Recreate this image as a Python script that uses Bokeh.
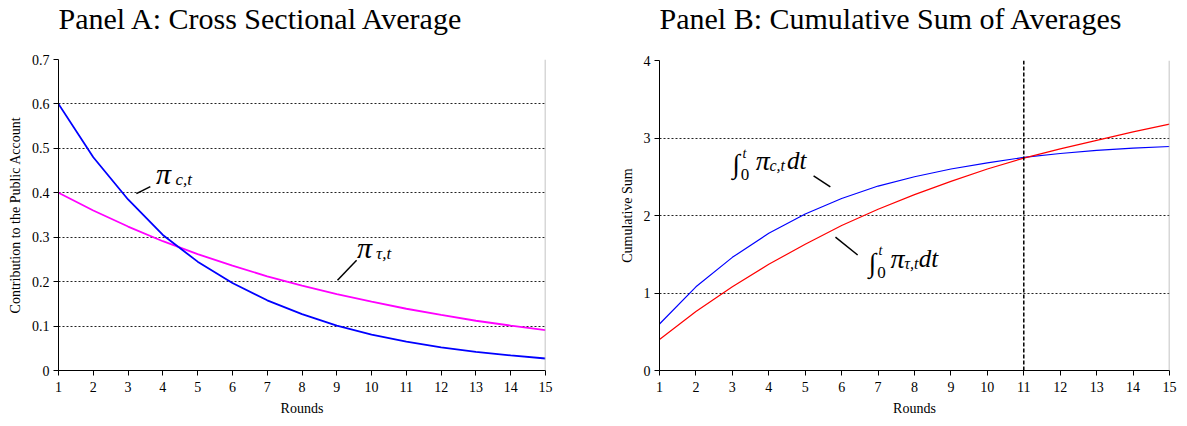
from bokeh.plotting import figure
from bokeh.models import Span, Range1d, FixedTicker, Label, Segment, ColumnDataSource
from bokeh.layouts import row, column
from bokeh.embed import file_html
from bokeh.resources import INLINE

# ---------------- data ----------------
rounds = list(range(1, 16))
pi_c = [0.60, 0.48, 0.385, 0.305, 0.245, 0.197, 0.158, 0.127, 0.101, 0.081, 0.065, 0.052, 0.042, 0.034, 0.027]
pi_tau = [0.40, 0.36, 0.324, 0.291, 0.262, 0.236, 0.212, 0.191, 0.172, 0.155, 0.139, 0.125, 0.112, 0.101, 0.091]
cum_c = [0.60, 1.08, 1.46, 1.77, 2.02, 2.22, 2.38, 2.50, 2.60, 2.68, 2.75, 2.80, 2.84, 2.87, 2.89]
cum_tau = [0.40, 0.76, 1.08, 1.37, 1.63, 1.87, 2.08, 2.27, 2.44, 2.60, 2.74, 2.86, 2.97, 3.08, 3.18]
crossing_round = 11
x_ticks = list(range(1, 16))
a_yticks = [0, 0.1, 0.2, 0.3, 0.4, 0.5, 0.6, 0.7]
a_ylabels = ["0", "0.1", "0.2", "0.3", "0.4", "0.5", "0.6", "0.7"]
b_yticks = [0, 1, 2, 3, 4]
b_ylabels = ["0", "1", "2", "3", "4"]
title_a = "Panel A: Cross Sectional Average"
title_b = "Panel B: Cumulative Sum of Averages"

FONT = "Liberation Serif"
TITLE_H = 45


def title_fig(width, text):
    # frames of figures stacked in a column are aligned, so share the x range of the panel
    t = figure(width=width, height=TITLE_H, x_range=Range1d(1, 15), y_range=Range1d(0, TITLE_H),
               output_backend="svg", toolbar_location=None, min_border=0,
               min_border_left=0, min_border_right=0, min_border_top=0, min_border_bottom=0,
               x_axis_location=None, y_axis_location=None)
    t.grid.visible = False
    t.outline_line_color = None
    t.add_layout(Label(x=1.0, y=27, text=text, text_font=FONT, text_font_size="30px",
                       text_color="black", text_baseline="alphabetic", text_align="left"))
    return t


def make(width, left, right, top, ymax, yticks, ylabels, ylabel):
    p = figure(width=width, height=426 - TITLE_H, x_range=Range1d(1, 15), y_range=Range1d(0, ymax),
               output_backend="svg", toolbar_location=None,
               min_border_left=left, min_border_right=right,
               min_border_top=top, min_border_bottom=56)
    p.outline_line_color = None
    p.background_fill_color = "white"
    p.border_fill_color = "white"
    p.xaxis.ticker = FixedTicker(ticks=x_ticks)
    p.yaxis.ticker = FixedTicker(ticks=yticks)
    p.yaxis.major_label_overrides = {t: l for t, l in zip(yticks, ylabels)}
    for ax in (p.xaxis, p.yaxis):
        ax.axis_line_color = "black"
        ax.major_tick_line_color = "black"
        ax.minor_tick_line_color = None
        ax.major_tick_in = 0
        ax.major_tick_out = 5
        ax.major_label_text_font = FONT
        ax.major_label_text_font_size = "14px"
        ax.major_label_text_color = "black"
        ax.axis_label_text_font = FONT
        ax.axis_label_text_font_style = "normal"
        ax.axis_label_text_font_size = "14px"
        ax.axis_label_text_color = "black"
    p.xaxis.axis_label = "Rounds"
    p.yaxis.axis_label = ylabel
    p.xaxis.major_label_standoff = 6
    p.xaxis.axis_label_standoff = 6
    p.yaxis.major_label_standoff = 4
    p.yaxis.axis_label_standoff = 6
    p.xgrid.grid_line_color = None
    p.ygrid.grid_line_color = "#222222"
    p.ygrid.grid_line_dash = "2 2"
    p.ygrid.grid_line_width = 1
    p.add_layout(Span(location=15, dimension="height", line_color="#b0b0b0", line_width=1.5))
    return p


def add_text(p, x, y, txt, size, style="italic"):
    p.add_layout(Label(x=x, y=y, text=txt, text_font=FONT, text_font_size=size,
                       text_font_style=style, text_color="black", text_baseline="alphabetic"))


# ---------------- Panel A ----------------
ta = title_fig(593, title_a)
pa = make(593, 58, 48, 59 - TITLE_H, 0.7, a_yticks, a_ylabels, "Contribution to the Public Account")
pa.line(rounds, pi_tau, line_color="#FF00FF", line_width=1.8)
pa.line(rounds, pi_c, line_color="#0000FF", line_width=1.8)

lead_a = ColumnDataSource(dict(x0=[3.24, 9.02], y0=[0.398, 0.203], x1=[3.64, 9.57], y1=[0.414, 0.248]))
pa.add_glyph(lead_a, Segment(x0="x0", y0="y0", x1="x1", y1="y1", line_color="black", line_width=1.5))
add_text(pa, 3.80, 0.444, "π", "30px")
add_text(pa, 4.36, 0.429, "c,t", "17px")
add_text(pa, 9.58, 0.277, "π", "30px")
add_text(pa, 10.13, 0.263, "τ,t", "17px")

# ---------------- Panel B ----------------
tb = title_fig(594, title_b)
pb = make(594, 66, 18, 60 - TITLE_H, 4, b_yticks, b_ylabels, "Cumulative Sum")
pb.line(rounds, cum_c, line_color="#0000FF", line_width=1.2)
pb.line(rounds, cum_tau, line_color="#FF0000", line_width=1.2)
pb.add_layout(Span(location=crossing_round, dimension="height", line_color="black",
                   line_width=1.5, line_dash="4 2"))

lead_b = ColumnDataSource(dict(x0=[5.23, 5.83], y0=[2.51, 1.72], x1=[5.69, 6.44], y1=[2.37, 1.49]))
pb.add_glyph(lead_b, Segment(x0="x0", y0="y0", x1="x1", y1="y1", line_color="black", line_width=1.5))

# integral labels
add_text(pb, 3.00, 2.67, "∫", "27px", "normal")
add_text(pb, 3.28, 2.80, "t", "14px")
add_text(pb, 3.23, 2.53, "0", "17px", "normal")
add_text(pb, 3.64, 2.71, "π", "28px")
add_text(pb, 4.02, 2.64, "c,t", "16px")
add_text(pb, 4.50, 2.71, "dt", "25px")

add_text(pb, 6.74, 1.386, "∫", "27px", "normal")
add_text(pb, 7.01, 1.553, "t", "14px")
add_text(pb, 6.98, 1.27, "0", "17px", "normal")
add_text(pb, 7.34, 1.446, "π", "28px")
add_text(pb, 7.72, 1.382, "τ,t", "16px")
add_text(pb, 8.12, 1.447, "dt", "25px")

layout = row(column(ta, pa, spacing=0), column(tb, pb, spacing=0), spacing=0)
open("out.html", "w").write(file_html(layout, INLINE))
